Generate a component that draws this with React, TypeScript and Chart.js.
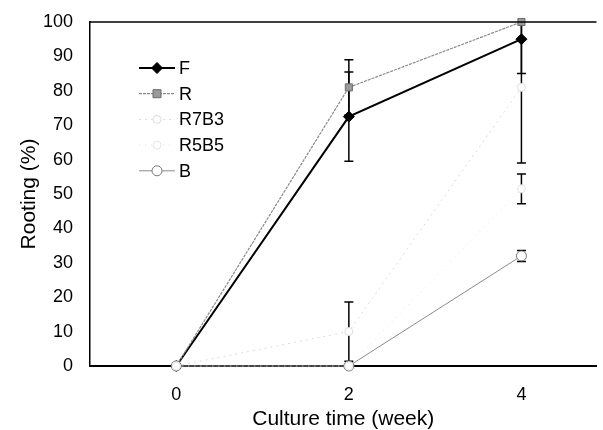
import React, { useEffect, useRef } from "react";
import { Chart, registerables } from "chart.js";

Chart.register(...registerables);

// ---- data ----
const weeks = [0, 2, 4];
const seriesNames = ["F", "R", "R7B3", "R5B5", "B"];
const F = [0, 72.5, 95];
const F_err = [0, 13, 10];
const R = [0, 81, 100];
const R_err = [0, 8, 0];
const R7B3 = [0, 10, 81];
const R7B3_err = [0, 8.6, 22];
const R5B5 = [0, 0, 51.5];
const R5B5_err = [0, 0, 4.3];
const B = [0, 0, 32];
const B_err = [0, 0, 1.6];
const xTickValues = [0, 2, 4];
const yTickStep = 10;
const xTitle = "Culture time (week)";
const yTitle = "Rooting (%)";

const FONT = "'Liberation Sans', Arial, sans-serif";

const values = [F, R, R7B3, R5B5, B];
const errors = [F_err, R_err, R7B3_err, R5B5_err, B_err];

const styles = [
  { color: "#000000", width: 2, dash: [] as number[], point: "rectRot", radius: 5.5, fill: "#000000", stroke: "#000000" },
  { color: "#8a8a8a", width: 1.2, dash: [3, 1], point: "rect", radius: 5, fill: "#9a9a9a", stroke: "#6a6a6a" },
  { color: "#dcdcdc", width: 1, dash: [2, 4], point: "circle", radius: 4, fill: "#ffffff", stroke: "#dddddd" },
  { color: "#e2e2e2", width: 1, dash: [1, 5], point: "circle", radius: 4, fill: "#ffffff", stroke: "#e4e4e4" },
  { color: "#8a8a8a", width: 1, dash: [], point: "circle", radius: 5, fill: "#ffffff", stroke: "#777777" },
];

function drawMarker(ctx: CanvasRenderingContext2D, st: any, x: number, y: number) {
  ctx.save();
  ctx.setLineDash([]);
  ctx.fillStyle = st.fill;
  ctx.strokeStyle = st.stroke;
  ctx.lineWidth = 1;
  const r = st.radius;
  ctx.beginPath();
  if (st.point === "rectRot") {
    ctx.moveTo(x, y - r);
    ctx.lineTo(x + r, y);
    ctx.lineTo(x, y + r);
    ctx.lineTo(x - r, y);
    ctx.closePath();
  } else if (st.point === "rect") {
    const h = r * 0.8;
    ctx.rect(x - h, y - h, 2 * h, 2 * h);
  } else {
    ctx.arc(x, y, r, 0, Math.PI * 2);
  }
  ctx.fill();
  ctx.stroke();
  ctx.restore();
}

const errorBarPlugin = {
  id: "errorBars",
  beforeDatasetsDraw(chart: any) {
    const { ctx, chartArea } = chart;
    const xs = chart.scales.x;
    const ys = chart.scales.y;
    ctx.save();
    ctx.beginPath();
    ctx.rect(chartArea.left, chartArea.top - 1, chartArea.right - chartArea.left, chartArea.bottom - chartArea.top + 2);
    ctx.clip();
    ctx.strokeStyle = "#000000";
    ctx.lineWidth = 1.5;
    ctx.setLineDash([]);
    values.forEach((vals, si) => {
      vals.forEach((v, i) => {
        const e = errors[si][i];
        if (!e) return;
        const x = xs.getPixelForValue(weeks[i]);
        const yTop = ys.getPixelForValue(v + e);
        const yBot = ys.getPixelForValue(v - e);
        ctx.beginPath();
        ctx.moveTo(x, yTop);
        ctx.lineTo(x, yBot);
        ctx.moveTo(x - 4.5, yTop);
        ctx.lineTo(x + 4.5, yTop);
        ctx.moveTo(x - 4.5, yBot);
        ctx.lineTo(x + 4.5, yBot);
        ctx.stroke();
      });
    });
    ctx.restore();
  },
};

const framePlugin = {
  id: "frameAndLegend",
  afterDraw(chart: any) {
    const { ctx, chartArea } = chart;
    ctx.save();
    ctx.strokeStyle = "#000000";
    ctx.lineWidth = 1.5;
    ctx.beginPath();
    ctx.moveTo(chartArea.left, chartArea.top);
    ctx.lineTo(chartArea.right, chartArea.top);
    ctx.stroke();

    // legend
    const x0 = chartArea.left + 49;
    const x1 = chartArea.left + 85;
    const tx = chartArea.left + 89;
    const y0 = chartArea.top + 46;
    const gap = 25.7;
    ctx.font = `18px ${FONT}`;
    ctx.textBaseline = "middle";
    ctx.textAlign = "left";
    seriesNames.forEach((name, i) => {
      const st = styles[i];
      const y = y0 + i * gap;
      ctx.strokeStyle = st.color;
      ctx.lineWidth = st.width;
      ctx.setLineDash(st.dash);
      ctx.beginPath();
      ctx.moveTo(x0, y);
      ctx.lineTo(x1, y);
      ctx.stroke();
      drawMarker(ctx, st, (x0 + x1) / 2, y);
      ctx.fillStyle = "#000000";
      ctx.fillText(name, tx, y + 1);
    });
    ctx.restore();
  },
};

export default function App() {
  const ref = useRef<HTMLCanvasElement | null>(null);
  useEffect(() => {
    if (!ref.current) return;
    const datasets = seriesNames.map((name, i) => ({
      label: name,
      data: weeks.map((w, j) => ({ x: w, y: values[i][j] })),
      borderColor: styles[i].color,
      borderWidth: styles[i].width,
      borderDash: styles[i].dash,
      pointStyle: styles[i].point,
      pointRadius: styles[i].radius,
      pointBackgroundColor: styles[i].fill,
      pointBorderColor: styles[i].stroke,
      pointBorderWidth: 1,
      tension: 0,
      fill: false,
      clip: false as any,
    }));
    // draw order: lighter series first, F on top
    const ordered = [datasets[3], datasets[2], datasets[4], datasets[1], datasets[0]];
    const chart = new Chart(ref.current, {
      type: "line",
      data: { datasets: ordered as any },
      options: {
        animation: false,
        responsive: false,
        layout: { padding: { top: 22, right: 0, left: 0, bottom: 0 } },
        plugins: { legend: { display: false }, tooltip: { enabled: false } },
        scales: {
          x: {
            type: "linear",
            min: -1,
            max: 4.87,
            grid: { display: false, drawTicks: false },
            border: { display: true, color: "#000000", width: 2 },
            afterBuildTicks: (s: any) => {
              s.ticks = xTickValues.map((v) => ({ value: v }));
            },
            afterFit: (s: any) => {
              s.height = 64;
              s.paddingLeft = 0;
              s.paddingRight = 0;
            },
            ticks: {
              padding: 18,
              color: "#000000",
              font: { family: FONT, size: 18 },
              maxRotation: 0,
              autoSkip: false,
            },
            title: {
              display: true,
              text: xTitle,
              color: "#000000",
              font: { family: FONT, size: 21, lineHeight: 1 },
              padding: { top: 0, bottom: 0 },
            },
          },
          y: {
            type: "linear",
            min: 0,
            max: 100,
            grid: { display: false, drawTicks: false },
            border: { display: true, color: "#000000", width: 1.5 },
            afterFit: (s: any) => {
              s.width = 90;
              s.paddingTop = 0;
              s.paddingBottom = 0;
            },
            ticks: {
              stepSize: yTickStep,
              padding: 17,
              color: "#000000",
              font: { family: FONT, size: 18 },
            },
            title: {
              display: true,
              text: yTitle,
              color: "#000000",
              font: { family: FONT, size: 21, lineHeight: 1.2 },
              padding: { top: 17, bottom: 0 },
            },
          },
        },
      },
      plugins: [errorBarPlugin, framePlugin],
    });
    return () => chart.destroy();
  }, []);
  return (
    <div style={{ position: "fixed", left: 0, top: 0, width: 603, height: 430, background: "#ffffff" }}>
      <canvas ref={ref} width={603} height={430} style={{ display: "block" }} />
    </div>
  );
}
